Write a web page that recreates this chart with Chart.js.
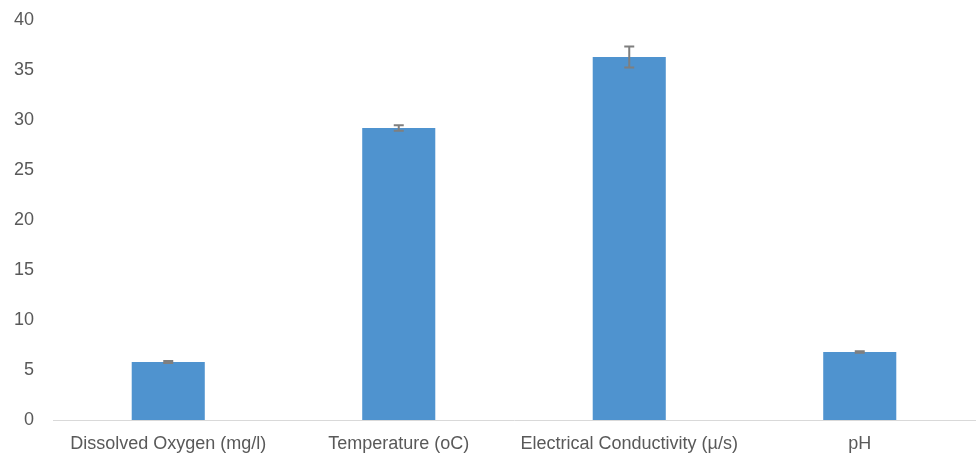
<!DOCTYPE html>
<html>
<head>
<meta charset="utf-8">
<script src="https://cdn.jsdelivr.net/npm/chart.js@4.4.0/dist/chart.umd.min.js"></script>
<style>
  html, body { margin: 0; padding: 0; background: #fff; }
  #wrap { width: 976px; height: 457px; }
</style>
</head>
<body>
<div id="wrap"><canvas id="waterChart"></canvas></div>
<script>
var categories = ['Dissolved Oxygen (mg/l)', 'Temperature (oC)', 'Electrical Conductivity (\u00b5/s)', 'pH'];
var means = [5.8, 29.2, 36.3, 6.8];
var errors = [0.1, 0.28, 1.05, 0.07];

// draws the +/- error bars on top of each bar
var errorBars = {
  id: 'errorBars',
  afterDatasetsDraw: function (chart) {
    var ctx = chart.ctx;
    var x = chart.scales.x, y = chart.scales.y;
    ctx.save();
    ctx.strokeStyle = '#7f7f7f';
    ctx.lineWidth = 2;
    means.forEach(function (m, i) {
      var cx = x.getPixelForValue(i);
      var top = y.getPixelForValue(m + errors[i]);
      var bot = y.getPixelForValue(m - errors[i]);
      ctx.beginPath();
      ctx.moveTo(cx, top); ctx.lineTo(cx, bot);
      ctx.moveTo(cx - 5, top); ctx.lineTo(cx + 5, top);
      ctx.moveTo(cx - 5, bot); ctx.lineTo(cx + 5, bot);
      ctx.stroke();
    });
    ctx.restore();
  }
};

Chart.defaults.font.family = '"Liberation Sans", sans-serif';
Chart.defaults.font.size = 18;
Chart.defaults.color = '#595959';

new Chart('waterChart', {
  type: 'bar',
  data: {
    labels: categories,
    datasets: [{
      data: means,
      backgroundColor: '#4f93cf',
      borderWidth: 0,
      barPercentage: 0.317,
      categoryPercentage: 1
    }]
  },
  plugins: [errorBars],
  options: {
    responsive: true,
    maintainAspectRatio: false,
    animation: false,
    layout: { padding: { top: 20, right: 1, left: 0, bottom: 0 } },
    plugins: { legend: { display: false }, tooltip: { enabled: false } },
    scales: {
      x: {
        grid: { display: false, drawTicks: false },
        border: { color: '#d9d9d9', width: 1 },
        ticks: { padding: 13, maxRotation: 0 },
        afterFit: function (s) { s.height = 37; }
      },
      y: {
        min: 0, max: 40,
        grid: { display: false, drawTicks: false },
        border: { display: false },
        ticks: { stepSize: 5, padding: 19 },
        afterFit: function (s) { s.width = 53; s.paddingTop = 0; s.paddingBottom = 0; }
      }
    }
  }
});
</script>
</body>
</html>
